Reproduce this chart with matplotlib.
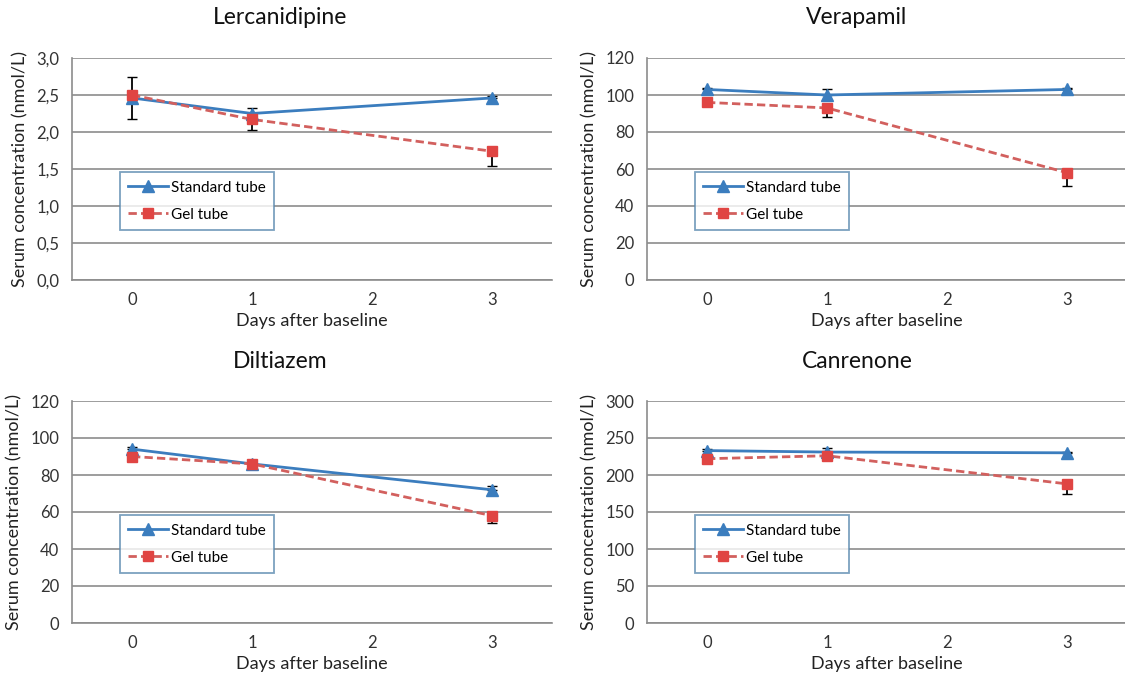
import matplotlib
matplotlib.use("Agg")
import matplotlib.pyplot as plt
from matplotlib.ticker import FuncFormatter
from matplotlib.lines import Line2D

plt.rcParams['font.family'] = ['Lato', 'DejaVu Sans']

days = [0, 1, 3]

# Lercanidipine
lerc_std = [2.46, 2.25, 2.46]
lerc_std_err = [0.29, 0.07, 0.02]
lerc_gel = [2.50, 2.17, 1.74]
lerc_gel_err = [0.33, 0.14, 0.20]

# Verapamil
vera_std = [103, 100, 103]
vera_std_err = [1, 3, 1]
vera_gel = [96, 93, 58]
vera_gel_err = [1, 5, 7]

# Diltiazem
dilt_std = [94, 86, 72]
dilt_std_err = [1, 1, 2]
dilt_gel = [90, 86, 58]
dilt_gel_err = [1, 1, 4]

# Canrenone
canr_std = [233, 231, 230]
canr_std_err = [2, 5, 1]
canr_gel = [222, 226, 188]
canr_gel_err = [5, 6, 14]

panels = [
    ("Lercanidipine", lerc_std, lerc_std_err, lerc_gel, lerc_gel_err, 3.0, 0.5, True),
    ("Verapamil", vera_std, vera_std_err, vera_gel, vera_gel_err, 120, 20, False),
    ("Diltiazem", dilt_std, dilt_std_err, dilt_gel, dilt_gel_err, 120, 20, False),
    ("Canrenone", canr_std, canr_std_err, canr_gel, canr_gel_err, 300, 50, False),
]

W, H = 1125, 675
# axes boxes in pixels: left, top
boxes = [(72, 58), (647, 58), (72, 401), (647, 401)]
title_x = [280, 857, 280, 857]
aw, ah = 480, 222

blue = '#3B7DBE'
red = '#E04543'
red_line = '#D2605E'
grid_c = '#8C8C8C'

fig = plt.figure(figsize=(W / 100, H / 100), dpi=100)

for (name, s, se, g, ge, ymax, step, comma), (lx, ty), tx in zip(panels, boxes, title_x):
    ax = fig.add_axes([lx / W, 1 - (ty + ah) / H, aw / W, ah / H])
    ax.errorbar(days, s, yerr=[[0] * 3, se], fmt='none', ecolor='black', elinewidth=1.3,
                capsize=3.5, zorder=2)
    ax.errorbar(days, g, yerr=[ge, [0] * 3], fmt='none', ecolor='black', elinewidth=1.3,
                capsize=3.5, zorder=2)
    ax.plot(days, s, color=blue, lw=2, zorder=3)
    ax.plot(days, s, ls='none', marker='^', ms=8, color=blue, zorder=5)
    ax.plot(days, g, color=red_line, lw=2, ls=(0, (3, 1.5)), zorder=4)
    ax.plot(days, g, ls='none', marker='s', ms=7.5, color=red, zorder=6)
    ax.set_xlim(-0.5, 3.5)
    ax.set_ylim(0, ymax)
    ax.set_xticks([0, 1, 2, 3])
    n = int(round(ymax / step))
    ax.set_yticks([i * step for i in range(n + 1)])
    if comma:
        ax.yaxis.set_major_formatter(FuncFormatter(lambda v, p: f"{v:.1f}".replace('.', ',')))
    ax.grid(axis='y', color=grid_c, lw=1.2)
    ax.set_axisbelow(True)
    for sp in ['top', 'right']:
        ax.spines[sp].set_visible(False)
    for sp in ['left', 'bottom']:
        ax.spines[sp].set_color(grid_c)
        ax.spines[sp].set_linewidth(1.2)
    ax.tick_params(length=0, labelsize=12, colors='#333333', pad=9)
    ax.set_xlabel('Days after baseline', fontsize=13, color='#222222', labelpad=3)
    ax.set_ylabel('Serum concentration (nmol/L)', fontsize=13, color='#222222', labelpad=6)
    handles = [
        Line2D([], [], color=blue, lw=2, marker='^', ms=8),
        Line2D([], [], color=red_line, lw=2, ls=(0, (3, 1.5)), marker='s', ms=7.5,
               markerfacecolor=red, markeredgecolor=red),
    ]
    leg = ax.legend(handles, ['Standard tube', 'Gel tube'], loc='lower left',
                    bbox_to_anchor=(0.10, 0.225), fontsize=11,
                    frameon=True, fancybox=False, borderpad=0.55, labelspacing=0.85,
                    handlelength=2.6, handletextpad=0.2, borderaxespad=0)
    leg.get_frame().set_edgecolor('#5B8AB0')
    leg.get_frame().set_linewidth(1.3)
    fig.text(tx / W, 1 - (ty - 40) / H, name, ha='center', va='center', fontsize=16.5,
             color='#111111')

fig.savefig('out.png', dpi=100, facecolor='white')
